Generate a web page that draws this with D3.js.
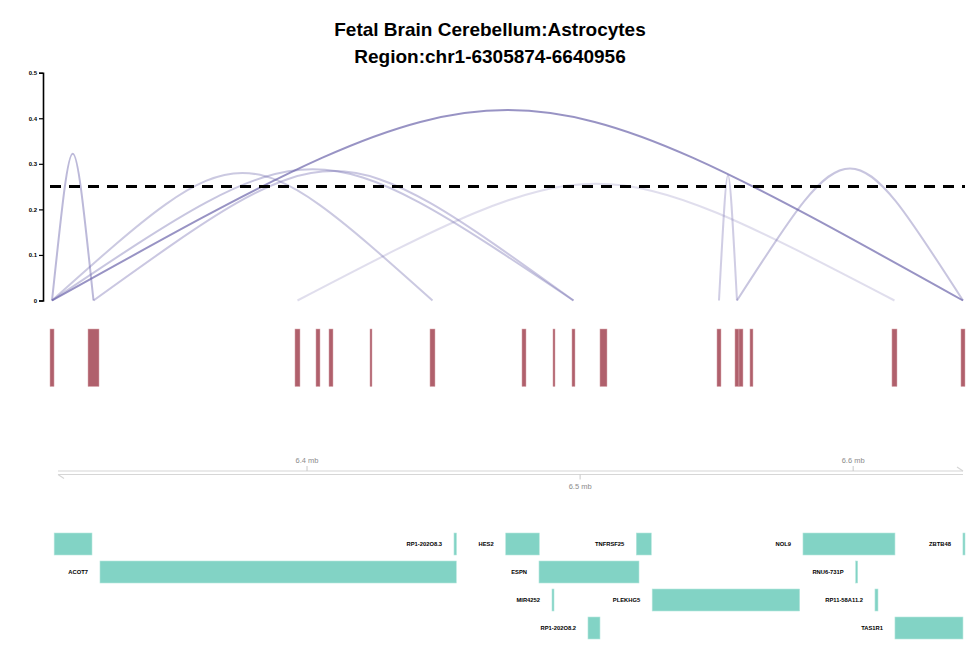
<!DOCTYPE html>
<html lang="en">
<head>
    <meta charset="utf-8">
    <script src="https://cdn.jsdelivr.net/npm/d3@7/dist/d3.min.js"></script>
    <style>
        body { margin: 0; background: #fff; }
        text { font-family: 'Liberation Sans', Arial, sans-serif; }
    </style>
</head>
<body>

<script>
    var w = 980;
    var h = 653;

    var cellType = 'Fetal Brain Cerebellum:Astrocytes';
    var chrom = 'chr1';
    var regionStart = 6305874;
    var regionEnd = 6640956;

    // peaks (accessible regions)
    var peakStarts = [6305874, 6319790, 6395590, 6403280, 6408040, 6423060, 6445030, 6478720, 6490070,
                      6497030, 6507280, 6550130, 6556720, 6558190, 6562210, 6614210, 6639480];
    var peakEnds   = [6307350, 6323820, 6397420, 6404750, 6409510, 6423790, 6446860, 6480190, 6490810,
                      6498130, 6509850, 6551600, 6558190, 6559650, 6563310, 6616050, 6640956];

    // co-accessibility connections (peak index -> peak index)
    var connFrom  = [0, 0, 0, 0, 1, 2, 11, 12];
    var connTo    = [1, 16, 6, 9, 9, 15, 12, 16];
    var coaccess  = [0.322, 0.418, 0.280, 0.288, 0.284, 0.256, 0.275, 0.290];
    var cutoff = 0.25;
    var yTicks = [0, 0.1, 0.2, 0.3, 0.4, 0.5];

    // genome axis
    var axisTicks = [6400000, 6500000, 6600000];

    // genes
    var geneNames  = ['GPR153', 'ACOT7', 'RP1-202O8.3', 'HES2', 'ESPN', 'MIR4252', 'RP1-202O8.2',
                      'TNFRSF25', 'PLEKHG5', 'NOL9', 'RNU6-731P', 'RP11-58A11.2', 'TAS1R1', 'ZBTB48'];
    var geneStarts = [6307400, 6324180, 6453820, 6472760, 6484950, 6489710, 6502890,
                      6520580, 6526400, 6581620, 6600920, 6607990, 6615310, 6640200];
    var geneEnds   = [6321250, 6454660, 6454730, 6485050, 6521570, 6490440, 6507280,
                      6526070, 6580400, 6615310, 6601500, 6609090, 6640210, 6649339];

    var svg = d3.select('body').append('svg')
        .attr('width', w)
        .attr('height', h);

    // title
    svg.append('text')
        .attr('x', 490).attr('y', 36)
        .attr('text-anchor', 'middle')
        .attr('font-size', '19px')
        .attr('font-weight', 'bold')
        .text(cellType);
    svg.append('text')
        .attr('x', 490).attr('y', 63)
        .attr('text-anchor', 'middle')
        .attr('font-size', '19px')
        .attr('font-weight', 'bold')
        .text('Region:' + chrom + '-' + regionStart + '-' + regionEnd);

    var x = d3.scaleLinear()
        .domain([regionStart, regionEnd])
        .range([50, 965]);

    var y = d3.scaleLinear()
        .domain([0, 0.5])
        .range([300.5, 72.7]);

    // ---- connections track ----
    var yAxis = d3.axisLeft(y)
        .tickValues(yTicks)
        .tickSize(4)
        .tickFormat(function(d) { return d === 0 ? '0' : d3.format('.1f')(d); });

    var ya = svg.append('g')
        .attr('transform', 'translate(43,0)')
        .call(yAxis);
    ya.select('.domain').attr('stroke', '#000').attr('stroke-width', 1.6);
    ya.selectAll('.tick line').attr('stroke', '#000').attr('stroke-width', 1.2);
    ya.selectAll('.tick text')
        .attr('font-size', '6px')
        .attr('font-weight', 'bold')
        .attr('font-family', 'Liberation Sans, Arial, sans-serif')
        .attr('x', -6);

    var arcColor = '#6f68ad';
    var arcOpacity = d3.scaleLinear()
        .domain([0.25, 0.28, 0.42])
        .range([0.18, 0.36, 0.72])
        .clamp(true);

    var peakMid = function(i) { return (peakStarts[i] + peakEnds[i]) / 2; };

    var conns = coaccess.map(function(v, i) {
        return { a: peakMid(connFrom[i]), b: peakMid(connTo[i]), v: v };
    });
    conns.sort(function(p, q) { return p.v - q.v; });

    svg.selectAll('path.arc')
        .data(conns)
        .enter()
        .append('path')
        .attr('class', 'arc')
        .attr('d', function(d) {
            var x1 = x(d.a), x2 = x(d.b), xm = (x1 + x2) / 2;
            var yc = y(d.v * 4 / 3);
            var p = d3.path();
            p.moveTo(x1, y(0));
            p.bezierCurveTo(xm, yc, xm, yc, x2, y(0));
            return p.toString();
        })
        .attr('fill', 'none')
        .attr('stroke', arcColor)
        .attr('stroke-opacity', function(d) { return arcOpacity(d.v); })
        .attr('stroke-width', 2);

    // cutoff line
    svg.append('line')
        .attr('x1', x(regionStart)).attr('x2', x(regionEnd))
        .attr('y1', y(cutoff)).attr('y2', y(cutoff))
        .attr('stroke', '#000')
        .attr('stroke-width', 3)
        .attr('stroke-dasharray', '11,8');

    // ---- peaks track ----
    svg.selectAll('rect.peak')
        .data(peakStarts)
        .enter()
        .append('rect')
        .attr('class', 'peak')
        .attr('x', function(d) { return x(d); })
        .attr('width', function(d, i) { return Math.max(1.5, x(peakEnds[i]) - x(d)); })
        .attr('y', 329)
        .attr('height', 57.5)
        .attr('fill', '#b0606c')
        .attr('stroke', '#d9aab0')
        .attr('stroke-width', 0.5);

    // ---- genome axis ----
    var axY1 = 471, axY2 = 474.5;
    var axL = x(regionStart) + 8, axR = x(regionEnd) - 2;
    var axColor = '#d6d6d6';
    var ga = svg.append('g');
    ga.append('line').attr('x1', axL).attr('x2', axR).attr('y1', axY1).attr('y2', axY1)
        .attr('stroke', axColor).attr('stroke-width', 1.2);
    ga.append('line').attr('x1', axL).attr('x2', axR).attr('y1', axY2).attr('y2', axY2)
        .attr('stroke', axColor).attr('stroke-width', 1.2);
    ga.append('line').attr('x1', axR).attr('x2', axR - 6).attr('y1', axY1).attr('y2', axY1 - 4)
        .attr('stroke', axColor).attr('stroke-width', 1.2);
    ga.append('line').attr('x1', axL).attr('x2', axL + 6).attr('y1', axY2).attr('y2', axY2 + 4)
        .attr('stroke', axColor).attr('stroke-width', 1.2);

    var ticks = ga.selectAll('g.gtick')
        .data(axisTicks)
        .enter()
        .append('g')
        .attr('class', 'gtick')
        .attr('transform', function(d) { return 'translate(' + x(d) + ',0)'; });
    ticks.append('line')
        .attr('y1', function(d, i) { return i % 2 === 0 ? axY1 : axY2; })
        .attr('y2', function(d, i) { return i % 2 === 0 ? axY1 - 5 : axY2 + 5; })
        .attr('stroke', '#c8c8c8');
    ticks.append('text')
        .attr('text-anchor', 'middle')
        .attr('y', function(d, i) { return i % 2 === 0 ? 463 : 489; })
        .attr('font-size', '7.5px')
        .attr('fill', '#8c8c8c')
        .text(function(d) { return d3.format('.1f')(d / 1e6) + ' mb'; });

    // ---- gene track ----
    var genes = geneNames.map(function(n, i) {
        return { name: n, start: geneStarts[i], end: Math.min(geneEnds[i], regionEnd) };
    });
    genes.sort(function(a, b) { return a.start - b.start; });

    var gg = svg.append('g');
    var labels = gg.selectAll('text.gene')
        .data(genes)
        .enter()
        .append('text')
        .attr('class', 'gene')
        .attr('text-anchor', 'end')
        .attr('font-size', '5.8px')
        .attr('font-weight', 'bold')
        .attr('fill', '#000')
        .text(function(d) { return d.name; });

    // stack genes in rows, leaving room for the label on the left
    var rowEnds = [];
    labels.each(function(d) {
        d.x0 = x(d.start);
        d.x1 = Math.max(x(d.end), d.x0 + 2);
        d.tw = this.getComputedTextLength();
        d.showLabel = d.x0 - 12 - d.tw > 45;
        var left = d.showLabel ? d.x0 - 12 - d.tw : d.x0;
        var r = 0;
        while (r < rowEnds.length && rowEnds[r] + 4 > left) r++;
        rowEnds[r] = d.x1;
        d.row = r;
    });

    var rowTop = 533, rowStep = 28, rowH = 22;

    labels
        .attr('x', function(d) { return d.x0 - 12; })
        .attr('y', function(d) { return rowTop + d.row * rowStep + rowH / 2 + 2; })
        .style('display', function(d) { return d.showLabel ? null : 'none'; });

    gg.selectAll('rect.gene')
        .data(genes)
        .enter()
        .append('rect')
        .attr('class', 'gene')
        .attr('x', function(d) { return d.x0; })
        .attr('width', function(d) { return d.x1 - d.x0; })
        .attr('y', function(d) { return rowTop + d.row * rowStep; })
        .attr('height', rowH)
        .attr('fill', '#82d3c5')
        .attr('stroke', '#b5e6dd')
        .attr('stroke-width', 0.6);
</script>
</body>
</html>
